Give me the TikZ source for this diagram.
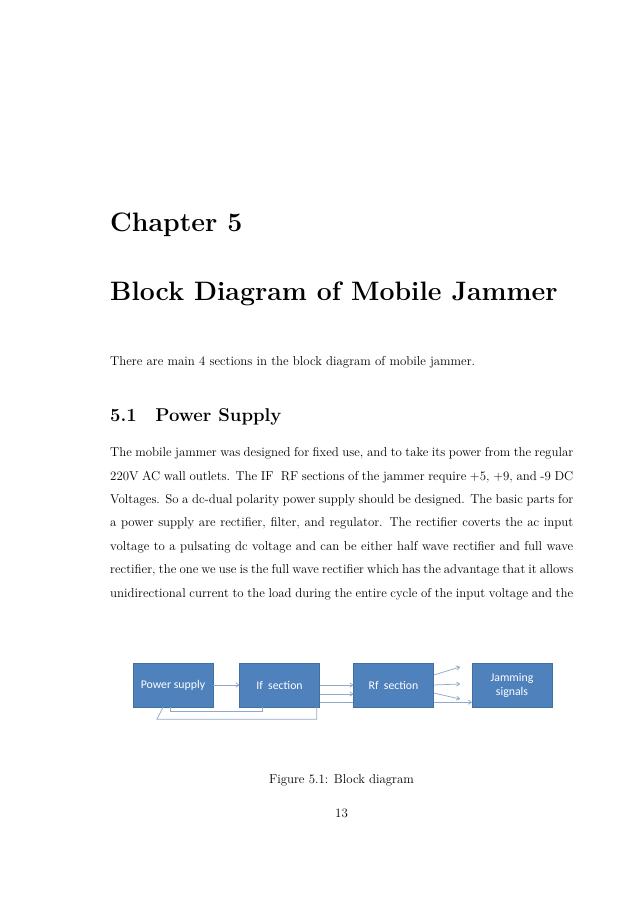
\documentclass[tikz,border=0pt]{standalone}
\usepackage{fontspec}
\usepackage{xcolor}
\usepackage{tikz}
\usetikzlibrary{calc}
\usetikzlibrary{arrows.meta}
\newfontfamily\boxfont{Carlito}
\definecolor{blkfill}{HTML}{4F81BD}
\definecolor{blkline}{HTML}{41709C}
\definecolor{wire}{HTML}{93A9CB}
\newcommand\jline[1]{\makebox[432pt][s]{#1}}

\begin{document}
\begin{tikzpicture}[x=0.933pt,y=-0.933pt,
	blk/.style={draw=blkline,fill=blkfill,text=white,minimum width=74.6pt,minimum height=41pt,inner sep=1pt,align=center,font=\boxfont\fontsize{11}{13}\selectfont},
	txt/.style={anchor=base west,inner sep=0pt,font=\fontsize{12}{14.5}\selectfont},
	wireline/.style={draw=wire,line width=0.7pt},
	arr/.style={wireline,-{To[length=3.5pt,width=4.5pt]}}]
	\fill[white] (0,0) rectangle (638,903);
	\useasboundingbox (0,0) rectangle (638,903);
	% headings
	\node[txt,font=\fontsize{24.88}{30}\selectfont\bfseries] (chap) at (110,231.7) {Chapter 5};
	\node[txt,font=\fontsize{24.88}{30}\selectfont\bfseries] (title) at (110,300) {Block Diagram of Mobile Jammer};
	\node[txt] (intro) at (110,365.7) {There are main 4 sections in the block diagram of mobile jammer.};
	\node[txt,font=\fontsize{17.28}{22}\selectfont\bfseries] (sec) at (110,421.7) {5.1\quad Power Supply};
	% paragraph
	\node[txt] (p1) at (110,456.7) {\jline{The mobile jammer was designed for fixed use, and to take its power from the regular}};
	\node[txt] (p2) at (110,480.1) {\jline{220V AC wall outlets. The IF\ \ RF sections of the jammer require $+5$, $+9$, and -9 DC}};
	\node[txt] (p3) at (110,503.5) {\jline{Voltages. So a dc-dual polarity power supply should be designed. The basic parts for}};
	\node[txt] (p4) at (110,526.9) {\jline{a power supply are rectifier, filter, and regulator. The rectifier coverts the ac input}};
	\node[txt] (p5) at (110,550.3) {\jline{voltage to a pulsating dc voltage and can be either half wave rectifier and full wave}};
	\node[txt] (p6) at (110,573.7) {\jline{rectifier, the one we use is the full wave rectifier which has the advantage that it allows}};
	\node[txt] (p7) at (110,597.1) {\jline{unidirectional current to the load during the entire cycle of the input voltage and the}};
	% blocks
	\node[blk] (ps) at (173,685) {Power supply};
	\node[blk] (ifs) at (279.5,685) {If\ \ section};
	\node[blk] (rf) at (393.5,685) {Rf\ \ section};
	\node[blk] (jam) at (512,685) {Jamming\\signals};
	\coordinate (o1) at (460,667);
	\coordinate (o2) at (460,684);
	\coordinate (o3) at (460,699);
	\draw[arr] (ps.east) -- (ifs.west);
	\draw[arr] (ifs.east) -- (rf.west);
	\draw[arr] ($(ifs.east)+(0,9)$) -- ($(rf.west)+(0,9)$);
	\draw[wireline] ($(ifs.south east)+(0,-5)$) -- ($(rf.south west)+(0,-5)$);
	\draw[arr] ($(rf.south east)+(0,-5)$) -- ($(jam.south west)+(0,-5)$);
	\draw[arr] ($(rf.east)+(0,-10)$) -- (o1);
	\draw[arr] (rf.east) -- (o2);
	\draw[arr] ($(rf.east)+(0,8)$) -- (o3);
	% feedback lines
	\draw[wireline] ($(ps.south)+(-3,0)$) -- ++(0,4) -| ($(ifs.south)+(-17.5,0)$);
	\draw[wireline] ($(ps.south)+(-10,0)$) -- ++(-6,12) -| ($(ifs.south east)+(-3,0)$);
	% caption
	\node[anchor=base,inner sep=0pt,font=\fontsize{12}{14.5}\selectfont] (cap) at (341.5,783) {Figure 5.1: Block diagram};
	\node[anchor=base,inner sep=0pt,font=\fontsize{12}{14.5}\selectfont] (pg) at (341.5,817) {13};
\end{tikzpicture}
\end{document}
